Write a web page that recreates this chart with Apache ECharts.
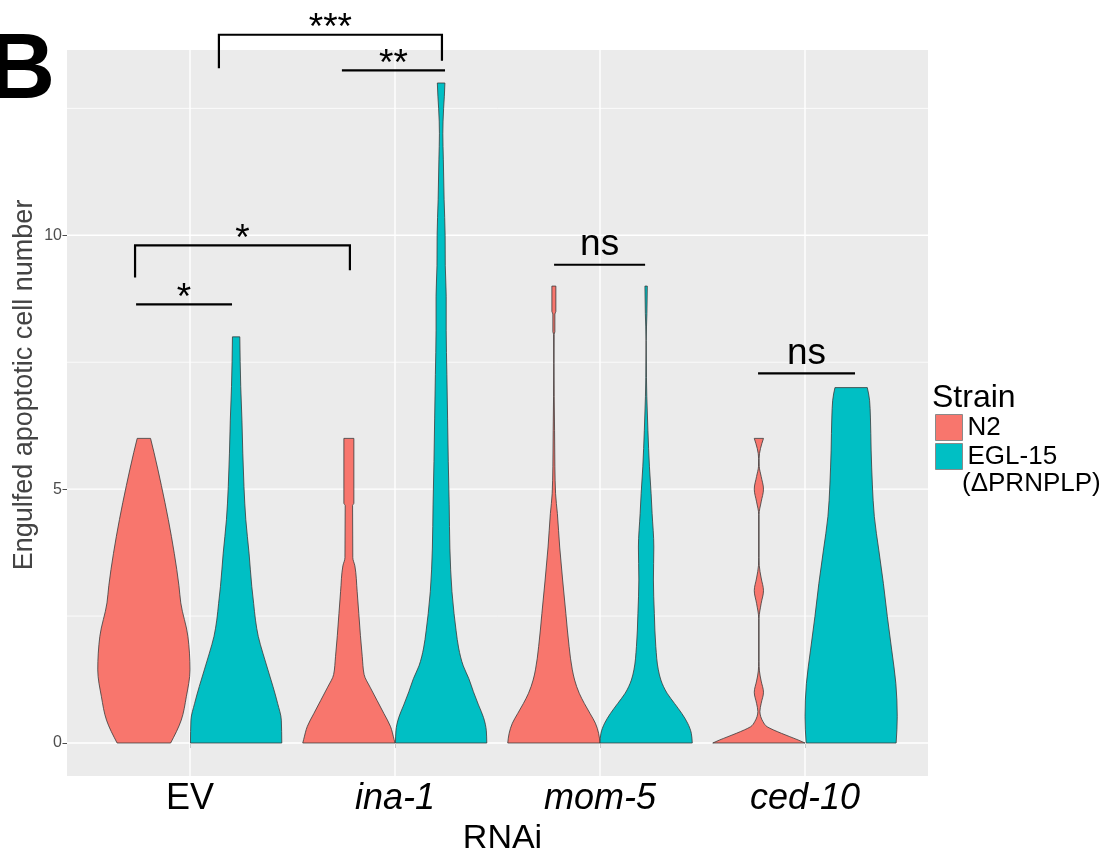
<!DOCTYPE html>
<html>
<head>
<meta charset="utf-8">
<script src="https://cdn.jsdelivr.net/npm/echarts@6/dist/echarts.min.js"></script>
<style>
  html, body { margin: 0; padding: 0; background: #ffffff; }
  #chart { width: 1113px; height: 855px; }
</style>
</head>
<body>
<div id="chart"></div>
<script>
// ---- data ----------------------------------------------------------------
const rnaiGroups = ['EV', 'ina-1', 'mom-5', 'ced-10'];
const strains = ['N2', 'EGL-15'];
const strainNotes = ['', '(ΔPRNPLP)'];
const yTicks = [0, 5, 10];
const yMinorLines = [2.5, 7.5, 12.5];

// violin profiles: [engulfed cell count, relative density width (1 = widest)]
const evN2 = [[0,0.58],[0.45,0.81],[0.91,0.92],[1.44,1.0],[2.1,0.955],[2.76,0.80],[3.1,0.76],[3.73,0.66],[4.4,0.53],[5.07,0.38],[5.72,0.22],[6,0.145]];
const evEGL = [[0,0.99],[0.45,0.98],[0.78,0.90],[1.11,0.80],[1.44,0.69],[1.77,0.58],[2.1,0.48],[2.42,0.42],[2.75,0.38],[3.08,0.34],[3.74,0.28],[4.4,0.21],[5.05,0.17],[5.71,0.145],[6.36,0.126],[7.02,0.10],[8,0.08]];
const ina1N2 = [[0,1.0],[0.07,0.98],[0.33,0.90],[0.58,0.76],[0.84,0.61],[1.1,0.46],[1.35,0.33],[1.7,0.29],[2.12,0.25],[2.98,0.18],[3.49,0.13],[3.65,0.085],[4.68,0.08],[4.72,0.108],[6,0.108]];
const ina1EGL = [[0,0.99],[0.24,0.98],[0.5,0.92],[0.75,0.81],[1.01,0.70],[1.27,0.60],[1.52,0.48],[1.87,0.38],[2.21,0.325],[2.55,0.28],[2.98,0.235],[3.84,0.19],[4.69,0.175],[5.55,0.155],[6.4,0.14],[7.26,0.125],[8.12,0.11],[8.8,0.11],[9.4,0.09],[10,0.087],[10.7,0.065],[11.5,0.048],[12,0.037],[12.5,0.054],[12.74,0.07],[13,0.082]];
const mom5N2 = [[0,1.0],[0.19,0.97],[0.39,0.90],[0.58,0.785],[0.78,0.66],[0.98,0.55],[1.24,0.45],[1.44,0.40],[1.9,0.33],[2.55,0.26],[3.21,0.19],[3.86,0.126],[4.52,0.076],[4.91,0.037],[5.44,0.022],[6.16,0.015],[6.82,0.007],[7.47,0.004],[8.05,0.006],[8.1,0.022],[8.45,0.022],[8.5,0.043],[9,0.043]];
const mom5EGL = [[0,1.0],[0.19,0.98],[0.39,0.90],[0.58,0.775],[0.78,0.615],[0.98,0.455],[1.24,0.32],[1.44,0.265],[1.9,0.21],[2.55,0.178],[3.21,0.158],[3.86,0.167],[4.52,0.13],[4.91,0.108],[5.44,0.072],[6.16,0.039],[6.82,0.015],[7.2,0.007],[7.93,0.002],[8.46,0.017],[9,0.026]];
const ced10N2 = [[0,1.0],[0.06,0.85],[0.125,0.67],[0.19,0.49],[0.26,0.31],[0.32,0.18],[0.42,0.09],[0.52,0.04],[0.62,0.022],[0.78,0.05],[1.0,0.1],[1.22,0.05],[1.42,0.012],[1.6,0.004],[2.45,0.004],[2.75,0.05],[3.0,0.1],[3.25,0.05],[3.5,0.008],[3.65,0.004],[4.5,0.004],[4.75,0.05],[5.0,0.1],[5.25,0.05],[5.45,0.008],[5.6,0.005],[6,0.1]];
const ced10EGL = [[0,0.976],[0.52,1.0],[1.17,0.97],[1.83,0.88],[2.49,0.785],[3.14,0.70],[3.8,0.60],[4.46,0.503],[5.1,0.46],[5.77,0.434],[6.42,0.418],[6.75,0.40],[7,0.351]];

const profilesN2 = [evN2, ina1N2, mom5N2, ced10N2];
const profilesEGL = [evEGL, ina1EGL, mom5EGL, ced10EGL];

// significance brackets: [label, x from, x to, bar height, left end, right end]
const significance = [
  ['***', 1.141, 2.229, 13.95, 13.29, 13.44],
  ['**',  1.741, 2.244, 13.25, 13.25, 13.25],
  ['*',   0.732, 1.780, 9.80, 9.17, 9.31],
  ['*',   0.737, 1.205, 8.64, 8.64, 8.64],
  ['ns',  2.776, 3.220, 9.42, 9.42, 9.42],
  ['ns',  3.771, 4.244, 7.28, 7.28, 7.28]
];

// ---- drawing -------------------------------------------------------------
const FONT = "'Liberation Sans', Arial, Helvetica, sans-serif";
const COLORS = ['#F8766D', '#00BFC4'];
const DODGE = 0.225;      // centre offset of each strain inside a group
const HALF_WIDTH = 0.225; // half of the widest violin, in axis units

const chart = echarts.init(document.getElementById('chart'), null, { renderer: 'canvas' });

// monotone cubic tangents (width as a function of count), keeps outlines from overshooting
function monotoneTangents(v, w) {
  const n = v.length;
  const h = [], s = [], m = new Array(n);
  for (let i = 0; i < n - 1; i++) {
    h[i] = v[i + 1] - v[i];
    s[i] = (w[i + 1] - w[i]) / h[i];
  }
  if (n === 2) { m[0] = m[1] = s[0]; return m; }
  for (let i = 1; i < n - 1; i++) {
    const p = (s[i - 1] * h[i] + s[i] * h[i - 1]) / (h[i - 1] + h[i]);
    m[i] = (Math.sign(s[i - 1]) + Math.sign(s[i])) *
      Math.min(Math.abs(s[i - 1]), Math.abs(s[i]), 0.5 * Math.abs(p)) || 0;
  }
  m[0] = (3 * s[0] - m[1]) / 2;
  m[n - 1] = (3 * s[n - 2] - m[n - 2]) / 2;
  return m;
}

function violinPath(api, cx, prof) {
  const v = prof.map(p => p[0]);
  const w = prof.map(p => p[1]);
  const m = monotoneTangents(v, w);
  const n = prof.length;
  const pt = (side, width, val) => {
    const c = api.coord([cx + side * width * HALF_WIDTH, val]);
    return c[0].toFixed(2) + ' ' + c[1].toFixed(2);
  };
  const segs = [];
  for (let i = 0; i < n - 1; i++) {
    const hh = v[i + 1] - v[i];
    segs.push({
      a: [w[i], v[i]],
      c1: [w[i] + m[i] * hh / 3, v[i] + hh / 3],
      c2: [w[i + 1] - m[i + 1] * hh / 3, v[i + 1] - hh / 3],
      b: [w[i + 1], v[i + 1]]
    });
  }
  let d = 'M ' + pt(-1, w[0], v[0]);
  for (const sg of segs) {
    d += ' C ' + pt(-1, sg.c1[0], sg.c1[1]) + ' ' + pt(-1, sg.c2[0], sg.c2[1]) + ' ' + pt(-1, sg.b[0], sg.b[1]);
  }
  d += ' L ' + pt(1, w[n - 1], v[n - 1]);
  for (let i = segs.length - 1; i >= 0; i--) {
    const sg = segs[i];
    d += ' C ' + pt(1, sg.c2[0], sg.c2[1]) + ' ' + pt(1, sg.c1[0], sg.c1[1]) + ' ' + pt(1, sg.a[0], sg.a[1]);
  }
  return d + ' Z';
}

function violinSeries(k, profiles) {
  const offset = k === 0 ? -DODGE : DODGE;
  return {
    name: strains[k],
    type: 'custom',
    z: 2,
    silent: true,
    itemStyle: { color: COLORS[k] },
    encode: { x: 0, y: 1 },
    data: profiles.map((p, i) => [i + 1 + offset, 0, i]),
    renderItem(params, api) {
      const i = api.value(2);
      return {
        type: 'path',
        shape: { pathData: violinPath(api, i + 1 + offset, profiles[i]) },
        style: { fill: COLORS[k], stroke: '#3a3a3a', lineWidth: 0.8 }
      };
    }
  };
}

// panel grid lines: [value, 0 = horizontal / 1 = vertical, 1 = major / 0 = minor]
const gridLineData = []
  .concat(yTicks.map(v => [v, 0, 1]))
  .concat(yMinorLines.map(v => [v, 0, 0]))
  .concat(rnaiGroups.map((g, i) => [i + 1, 1, 1]));

const option = {
  animation: false,
  backgroundColor: '#ffffff',
  textStyle: { fontFamily: FONT },
  grid: {
    left: 67, top: 50, width: 861, height: 726,
    show: true, backgroundColor: '#EBEBEB', borderWidth: 0,
    containLabel: false, outerBoundsMode: 'none'
  },
  xAxis: {
    type: 'value', min: 0.4, max: 4.6,
    axisLine: { show: false },
    splitLine: { show: false },
    axisTick: { show: true, customValues: [1, 2, 3, 4], length: 5, lineStyle: { color: '#4d4d4d', width: 1 } },
    axisLabel: {
      customValues: [1, 2, 3, 4],
      margin: 5,
      fontSize: 36, color: '#000', fontFamily: FONT,
      formatter: v => {
        const name = rnaiGroups[Math.round(v) - 1];
        return name === 'EV' ? '{up|' + name + '}' : '{it|' + name + '}';
      },
      rich: {
        up: { fontSize: 36, color: '#000', fontFamily: FONT },
        it: { fontSize: 36, color: '#000', fontFamily: FONT, fontStyle: 'italic' }
      }
    },
    name: 'RNAi', nameLocation: 'middle', nameGap: 43,
    nameTextStyle: { fontSize: 34, color: '#000', fontFamily: FONT, padding: [0, 0, 0, 10] }
  },
  yAxis: {
    type: 'value', min: -0.65, max: 13.65,
    axisLine: { show: false },
    splitLine: { show: false },
    axisTick: { show: true, customValues: yTicks, length: 4.5, lineStyle: { color: '#4d4d4d', width: 1 } },
    axisLabel: { customValues: yTicks, margin: 5, fontSize: 16, color: '#4d4d4d', fontFamily: FONT }
  },
  legend: {
    left: 935, top: 414, orient: 'vertical', padding: 0, itemGap: 2,
    itemWidth: 27, itemHeight: 26, icon: 'rect', selectedMode: false,
    itemStyle: { borderColor: '#8a8a8a', borderWidth: 1 },
    textStyle: { fontSize: 26, color: '#000', fontFamily: FONT, lineHeight: 26 },
    data: strains
  },
  graphic: [
    { type: 'text', x: -12, y: 72, silent: true,
      style: { text: 'B', fontSize: 93, fontWeight: 'bold', fontFamily: FONT, fill: '#000', align: 'left', verticalAlign: 'middle' } },
    { type: 'text', x: 25, y: 385, rotation: Math.PI / 2, silent: true,
      style: { text: 'Engulfed apoptotic cell number', fontSize: 27, fontFamily: FONT, fill: '#444', align: 'center', verticalAlign: 'middle' } },
    { type: 'text', x: 932, y: 398, silent: true,
      style: { text: 'Strain', fontSize: 32, fontFamily: FONT, fill: '#000', align: 'left', verticalAlign: 'middle' } },
    { type: 'text', x: 962, y: 484, silent: true,
      style: { text: strainNotes[1], fontSize: 26, fontFamily: FONT, fill: '#000', align: 'left', verticalAlign: 'middle' } }
  ],
  series: [
    {
      type: 'custom', z: 1, silent: true,
      encode: { x: 0, y: 1 },
      data: gridLineData,
      renderItem(params, api) {
        const cs = params.coordSys;
        const v = api.value(0), vertical = api.value(1) === 1, major = api.value(2) === 1;
        let shape;
        if (vertical) {
          const x = api.coord([v, 0])[0];
          shape = { x1: x, y1: cs.y, x2: x, y2: cs.y + cs.height };
        } else {
          const y = api.coord([1, v])[1];
          shape = { x1: cs.x, y1: y, x2: cs.x + cs.width, y2: y };
        }
        return { type: 'line', shape, style: { stroke: '#ffffff', lineWidth: major ? 1.4 : 0.8 } };
      }
    },
    violinSeries(0, profilesN2),
    violinSeries(1, profilesEGL),
    {
      type: 'custom', z: 5, silent: true, clip: false,
      encode: { x: 0, y: 1 },
      data: significance.map((s, i) => [(s[1] + s[2]) / 2, s[3], i]),
      renderItem(params, api) {
        const s = significance[api.value(2)];
        const a = api.coord([s[1], s[4]]);
        const b = api.coord([s[1], s[3]]);
        const c = api.coord([s[2], s[3]]);
        const d = api.coord([s[2], s[5]]);
        const mid = api.coord([(s[1] + s[2]) / 2, s[3]]);
        const lift = s[0] === 'ns' ? 20 : 5.5;
        return {
          type: 'group',
          children: [
            { type: 'polyline', shape: { points: [a, b, c, d] }, style: { stroke: '#000', lineWidth: 2.2, fill: null } },
            { type: 'text', x: mid[0], y: mid[1] - lift,
              style: { text: s[0], fontSize: 37, fontFamily: FONT, fill: '#000', align: 'center', verticalAlign: 'middle' } }
          ]
        };
      }
    }
  ]
};

chart.setOption(option);
</script>
</body>
</html>
